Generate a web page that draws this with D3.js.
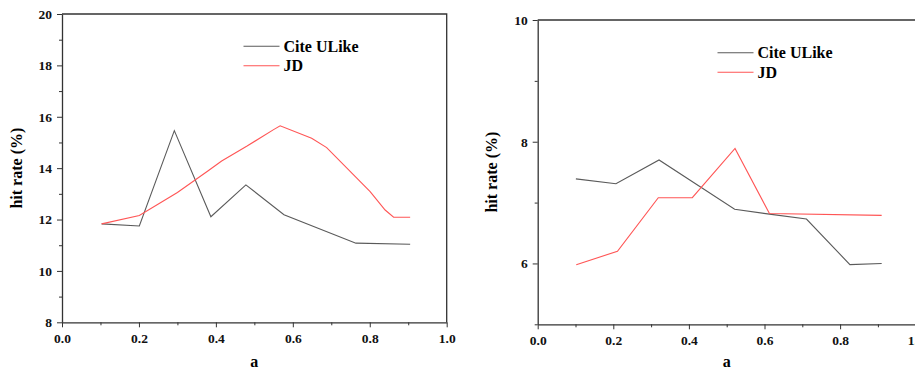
<!DOCTYPE html>
<html>
<head>
<meta charset="utf-8">
<script src="https://cdn.jsdelivr.net/npm/d3@7"></script>
<style>
  html, body { margin: 0; padding: 0; background: #fff; overflow: hidden; }
</style>
</head>
<body>
<div id="chart"></div>
<script>
// series names
const seriesNames = ["Cite ULike", "JD"];

// left panel: Cite ULike
const leftCiteA = [0.103, 0.201, 0.292, 0.387, 0.478, 0.577, 0.764, 0.905];
const leftCiteRate = [11.83, 11.75, 15.46, 12.11, 13.35, 12.19, 11.08, 11.04];
// left panel: JD
const leftJdA = [0.103, 0.201, 0.300, 0.380, 0.415, 0.480, 0.550, 0.567, 0.649, 0.688, 0.801, 0.840, 0.862, 0.905];
const leftJdRate = [11.83, 12.16, 13.05, 13.90, 14.28, 14.85, 15.50, 15.65, 15.16, 14.80, 13.09, 12.37, 12.09, 12.09];

// right panel: Cite ULike
const rightCiteA = [0.101, 0.207, 0.321, 0.521, 0.613, 0.711, 0.826, 0.910];
const rightCiteRate = [7.39, 7.31, 7.70, 6.89, 6.81, 6.73, 5.98, 6.00];
// right panel: JD
const rightJdA = [0.102, 0.211, 0.319, 0.409, 0.522, 0.613, 0.910];
const rightJdRate = [5.98, 6.20, 7.08, 7.08, 7.89, 6.82, 6.79];

// tick labels
const xTicks = [0.0, 0.2, 0.4, 0.6, 0.8, 1.0];
const xMinorTicks = [0.1, 0.3, 0.5, 0.7, 0.9];
const leftYTicks = [8, 10, 12, 14, 16, 18, 20];
const leftYMinor = [9, 11, 13, 15, 17, 19];
const rightYTicks = [6, 8, 10];
const rightYMinor = [5, 7, 9];

const WIDTH = 915;
const HEIGHT = 372;
const COLORS = ["#5a5a5a", "#ff5555"];
const FONT = "'Liberation Serif', 'Times New Roman', Times, serif";

const svg = d3.select("#chart")
    .append("svg")
    .attr("width", WIDTH)
    .attr("height", HEIGHT)
    .style("display", "block")
    .attr("font-family", FONT);

function styleAxis(a) {
    a.attr("font-family", FONT);
    a.selectAll("line").attr("stroke", "#333");
    a.selectAll("text")
        .attr("font-family", FONT)
        .attr("font-weight", "bold")
        .attr("font-size", 13.5)
        .attr("fill", "#111");
}

function drawPanel(p) {
    const x = d3.scaleLinear().domain([0, 1]).range([p.left, p.right]);
    const y = d3.scaleLinear().domain(p.yDomain).range([p.bottom, p.top]);
    const g = svg.append("g");

    // frame (top & right)
    g.append("path")
        .attr("d", `M${p.left},${p.top}H${p.right}V${p.bottom}`)
        .attr("fill", "none")
        .attr("stroke", "#333")
        .attr("stroke-width", 1.3);

    // minor ticks
    g.append("g")
        .attr("transform", `translate(0,${p.bottom})`)
        .call(d3.axisBottom(x).tickValues(xMinorTicks).tickSize(3).tickSizeOuter(0).tickFormat(""))
        .call(styleAxis)
        .call(a => a.select(".domain").remove());
    g.append("g")
        .attr("transform", `translate(${p.left},0)`)
        .call(d3.axisLeft(y).tickValues(p.yMinor).tickSize(3).tickSizeOuter(0).tickFormat(""))
        .call(styleAxis)
        .call(a => a.select(".domain").remove());

    // major axes
    g.append("g")
        .attr("transform", `translate(0,${p.bottom})`)
        .call(d3.axisBottom(x).tickValues(xTicks).tickSize(5).tickSizeOuter(0).tickPadding(6).tickFormat(d3.format(".1f")))
        .call(styleAxis)
        .call(a => a.select(".domain").attr("stroke", "#333").attr("stroke-width", 1.3));
    g.append("g")
        .attr("transform", `translate(${p.left},0)`)
        .call(d3.axisLeft(y).tickValues(p.yTicks).tickSize(5).tickSizeOuter(0).tickPadding(5).tickFormat(d3.format("d")))
        .call(styleAxis)
        .call(a => a.select(".domain").attr("stroke", "#333").attr("stroke-width", 1.3));

    // axis titles
    g.append("text")
        .attr("x", (p.left + p.right) / 2)
        .attr("y", 367)
        .attr("text-anchor", "middle")
        .attr("font-weight", "bold")
        .attr("font-size", 16)
        .text("a");
    g.append("text")
        .attr("transform", `translate(${p.titleX},${(p.top + p.bottom) / 2}) rotate(-90)`)
        .attr("text-anchor", "middle")
        .attr("font-weight", "bold")
        .attr("font-size", 16)
        .text("hit rate (%)");

    // lines
    const line = d3.line().x(d => x(d[0])).y(d => y(d[1]));
    p.series.forEach((s, i) => {
        g.append("path")
            .datum(d3.zip(s[0], s[1]))
            .attr("d", line)
            .attr("fill", "none")
            .attr("stroke", COLORS[i])
            .attr("stroke-width", 1.1);
    });

    // legend
    seriesNames.forEach((name, i) => {
        const ly = p.legendY + i * 19.5;
        g.append("line")
            .attr("x1", p.legendX).attr("x2", p.legendX + 36)
            .attr("y1", ly).attr("y2", ly)
            .attr("stroke", COLORS[i])
            .attr("stroke-width", 1.1);
        g.append("text")
            .attr("x", p.legendX + 40)
            .attr("y", ly + 5.5)
            .attr("font-weight", "bold")
            .attr("font-size", 16)
            .text(name);
    });
}

drawPanel({
    left: 62, right: 446.7, top: 14, bottom: 322.3,
    yDomain: [8, 20], yTicks: leftYTicks, yMinor: leftYMinor,
    titleX: 22, legendX: 243.5, legendY: 46.3,
    series: [[leftCiteA, leftCiteRate], [leftJdA, leftJdRate]]
});

drawPanel({
    left: 537.7, right: 915.7, top: 20, bottom: 324.3,
    yDomain: [5, 10], yTicks: rightYTicks, yMinor: rightYMinor,
    titleX: 497, legendX: 717.5, legendY: 52.7,
    series: [[rightCiteA, rightCiteRate], [rightJdA, rightJdRate]]
});
</script>
</body>
</html>
